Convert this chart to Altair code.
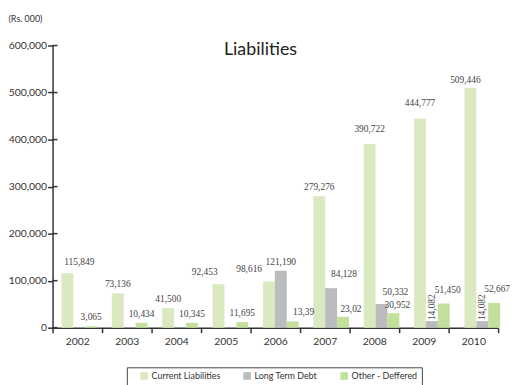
import altair as alt
import pandas as pd

years = ["2002", "2003", "2004", "2005", "2006", "2007", "2008", "2009", "2010"]
series_names = ["Current Liabilities", "Long Term Debt", "Other - Deffered"]
current = [115849, 73136, 41500, 92453, 98616, 279276, 390722, 444777, 509446]
long_term = [None, None, None, None, 121190, 84128, 50332, 14082, 14082]
other = [3065, 10434, 10345, 11695, 13390, 23020, 30952, 51450, 52667]
other_labels = ["3,065", "10,434", "10,345", "11,695", "13,39", "23,02", "30,952", "51,450", "52,667"]
y_ticks = [0, 100000, 200000, 300000, 400000, 500000, 600000]
colors = ["#dbe9c0", "#bbbcbe", "#c3df9c"]
title_text = "Liabilities"

rows = []
for i, yr in enumerate(years):
    for s, vals in zip(series_names, [current, long_term, other]):
        v = vals[i]
        if v is None:
            continue
        lab = other_labels[i] if s == "Other - Deffered" else f"{v:,}"
        rows.append({"year": yr, "series": s, "value": v, "label": lab, "key": yr + "|" + s})
df = pd.DataFrame(rows)

# label nudges (dx, dy) to mimic the reference placement
nudges = {
    "2002|Current Liabilities": (12, -6),
    "2005|Current Liabilities": (-14, -7),
    "2006|Current Liabilities": (-20, -7),
    "2006|Other - Deffered": (11, -4),
    "2007|Long Term Debt": (13, -9),
    "2007|Other - Deffered": (8, -3),
    "2008|Current Liabilities": (0, -10),
    "2008|Long Term Debt": (14, -7),
    "2008|Other - Deffered": (4, -3),
    "2009|Current Liabilities": (0, -11),
    "2009|Other - Deffered": (4, -9),
    "2010|Current Liabilities": (-5, -3),
    "2010|Other - Deffered": (3, -9),
}
rotated = ["2009|Long Term Debt", "2010|Long Term Debt"]

FONT = "Lato"
LABEL_FONT = "Liberation Serif"
DARK = "#333333"


def bar_x():
    return alt.X("year:N", sort=years, axis=None,
                 scale=alt.Scale(domain=years, range=[0, 461], paddingInner=0.2924,
                                 paddingOuter=0.1769))


def bar_xo():
    return alt.XOffset("series:N", sort=series_names,
                       scale=alt.Scale(domain=series_names, paddingInner=0, paddingOuter=0))


y_enc = alt.Y(
    "value:Q",
    scale=alt.Scale(domain=[0, 600000], nice=False),
    axis=alt.Axis(
        values=y_ticks, format=",d", title="(Rs. 000)", titleAngle=0, titleX=-45, titleY=-27,
        titleAlign="left", titleBaseline="middle", titleFont=FONT, titleFontSize=9,
        titleFontWeight="normal", titleColor=DARK, grid=False, tickSize=5, tickWidth=1.5,
        tickColor=DARK, labelPadding=1, domainColor=DARK, domainWidth=1.5,
        labelFont=FONT, labelFontSize=10.5, labelColor=DARK,
    ),
)

bars = alt.Chart(df).mark_bar().encode(
    x=bar_x(),
    xOffset=bar_xo(),
    y=y_enc,
    color=alt.Color(
        "series:N",
        scale=alt.Scale(domain=series_names, range=colors),
        legend=alt.Legend(
            title=None, orient="none", legendX=75, legendY=325, direction="horizontal",
            strokeColor="#444444", fillColor="white", padding=4, symbolType="square",
            symbolSize=60, symbolStrokeWidth=0, symbolOpacity=1, symbolOffset=9,
            labelFont=FONT, labelFontSize=9, labelColor=DARK, columnPadding=13,
            labelOffset=3, cornerRadius=0,
        ),
    ),
)

special = list(nudges.keys()) + rotated
base_text = alt.Chart(df).encode(x=bar_x(), xOffset=bar_xo(), y=alt.Y("value:Q"), text="label:N")
text_style = dict(font=LABEL_FONT, fontSize=9.5, color="#444444")
inner = [bars]
inner.append(
    base_text.transform_filter(~alt.FieldOneOfPredicate(field="key", oneOf=special))
    .mark_text(baseline="bottom", dy=-4, **text_style)
)
for k, (dx, dy) in nudges.items():
    inner.append(
        base_text.transform_filter(alt.FieldEqualPredicate(field="key", equal=k))
        .mark_text(baseline="bottom", dx=dx, dy=dy, **text_style)
    )
inner.append(
    base_text.transform_filter(alt.FieldOneOfPredicate(field="key", oneOf=rotated))
    .mark_text(baseline="middle", align="left", angle=270, dx=1, **text_style)
)
bar_group = alt.layer(*inner)

# category axis (ticks at group boundaries)
axis_layer = alt.Chart(pd.DataFrame({"year": years})).mark_point(opacity=0).encode(
    x=alt.X(
        "year:N", sort=years,
        scale=alt.Scale(domain=years, paddingInner=0, paddingOuter=0),
        axis=alt.Axis(
            title=None, tickBand="extent", labelAngle=0, domainColor=DARK, domainWidth=1.5,
            tickColor=DARK, tickWidth=1.5, tickSize=5, labelFont=FONT, labelFontSize=10.5,
            labelColor=DARK, labelPadding=4,
        ),
    ),
    y=alt.value(285),
)

tick_df = pd.DataFrame({"value": y_ticks})
inner_ticks = alt.Chart(tick_df).mark_rule(color=DARK, strokeWidth=1.5).encode(
    y=alt.Y("value:Q"), x=alt.value(0), x2=alt.value(5)
)

title_layer = alt.Chart(pd.DataFrame({"t": [title_text]})).mark_text(
    font=FONT, fontSize=18, color="#222222", baseline="alphabetic", align="center"
).encode(text="t:N", x=alt.value(210), y=alt.value(10))

chart = alt.layer(axis_layer, bar_group, inner_ticks, title_layer).resolve_scale(
    x="independent"
).properties(
    width=450,
    height=285,
    autosize=alt.AutoSizeParams(type="none"),
    padding={"left": 45, "top": 36, "right": 12, "bottom": 58},
).configure_view(stroke=None)

chart.save("out.html", embed_options={"renderer": "svg", "actions": False})
